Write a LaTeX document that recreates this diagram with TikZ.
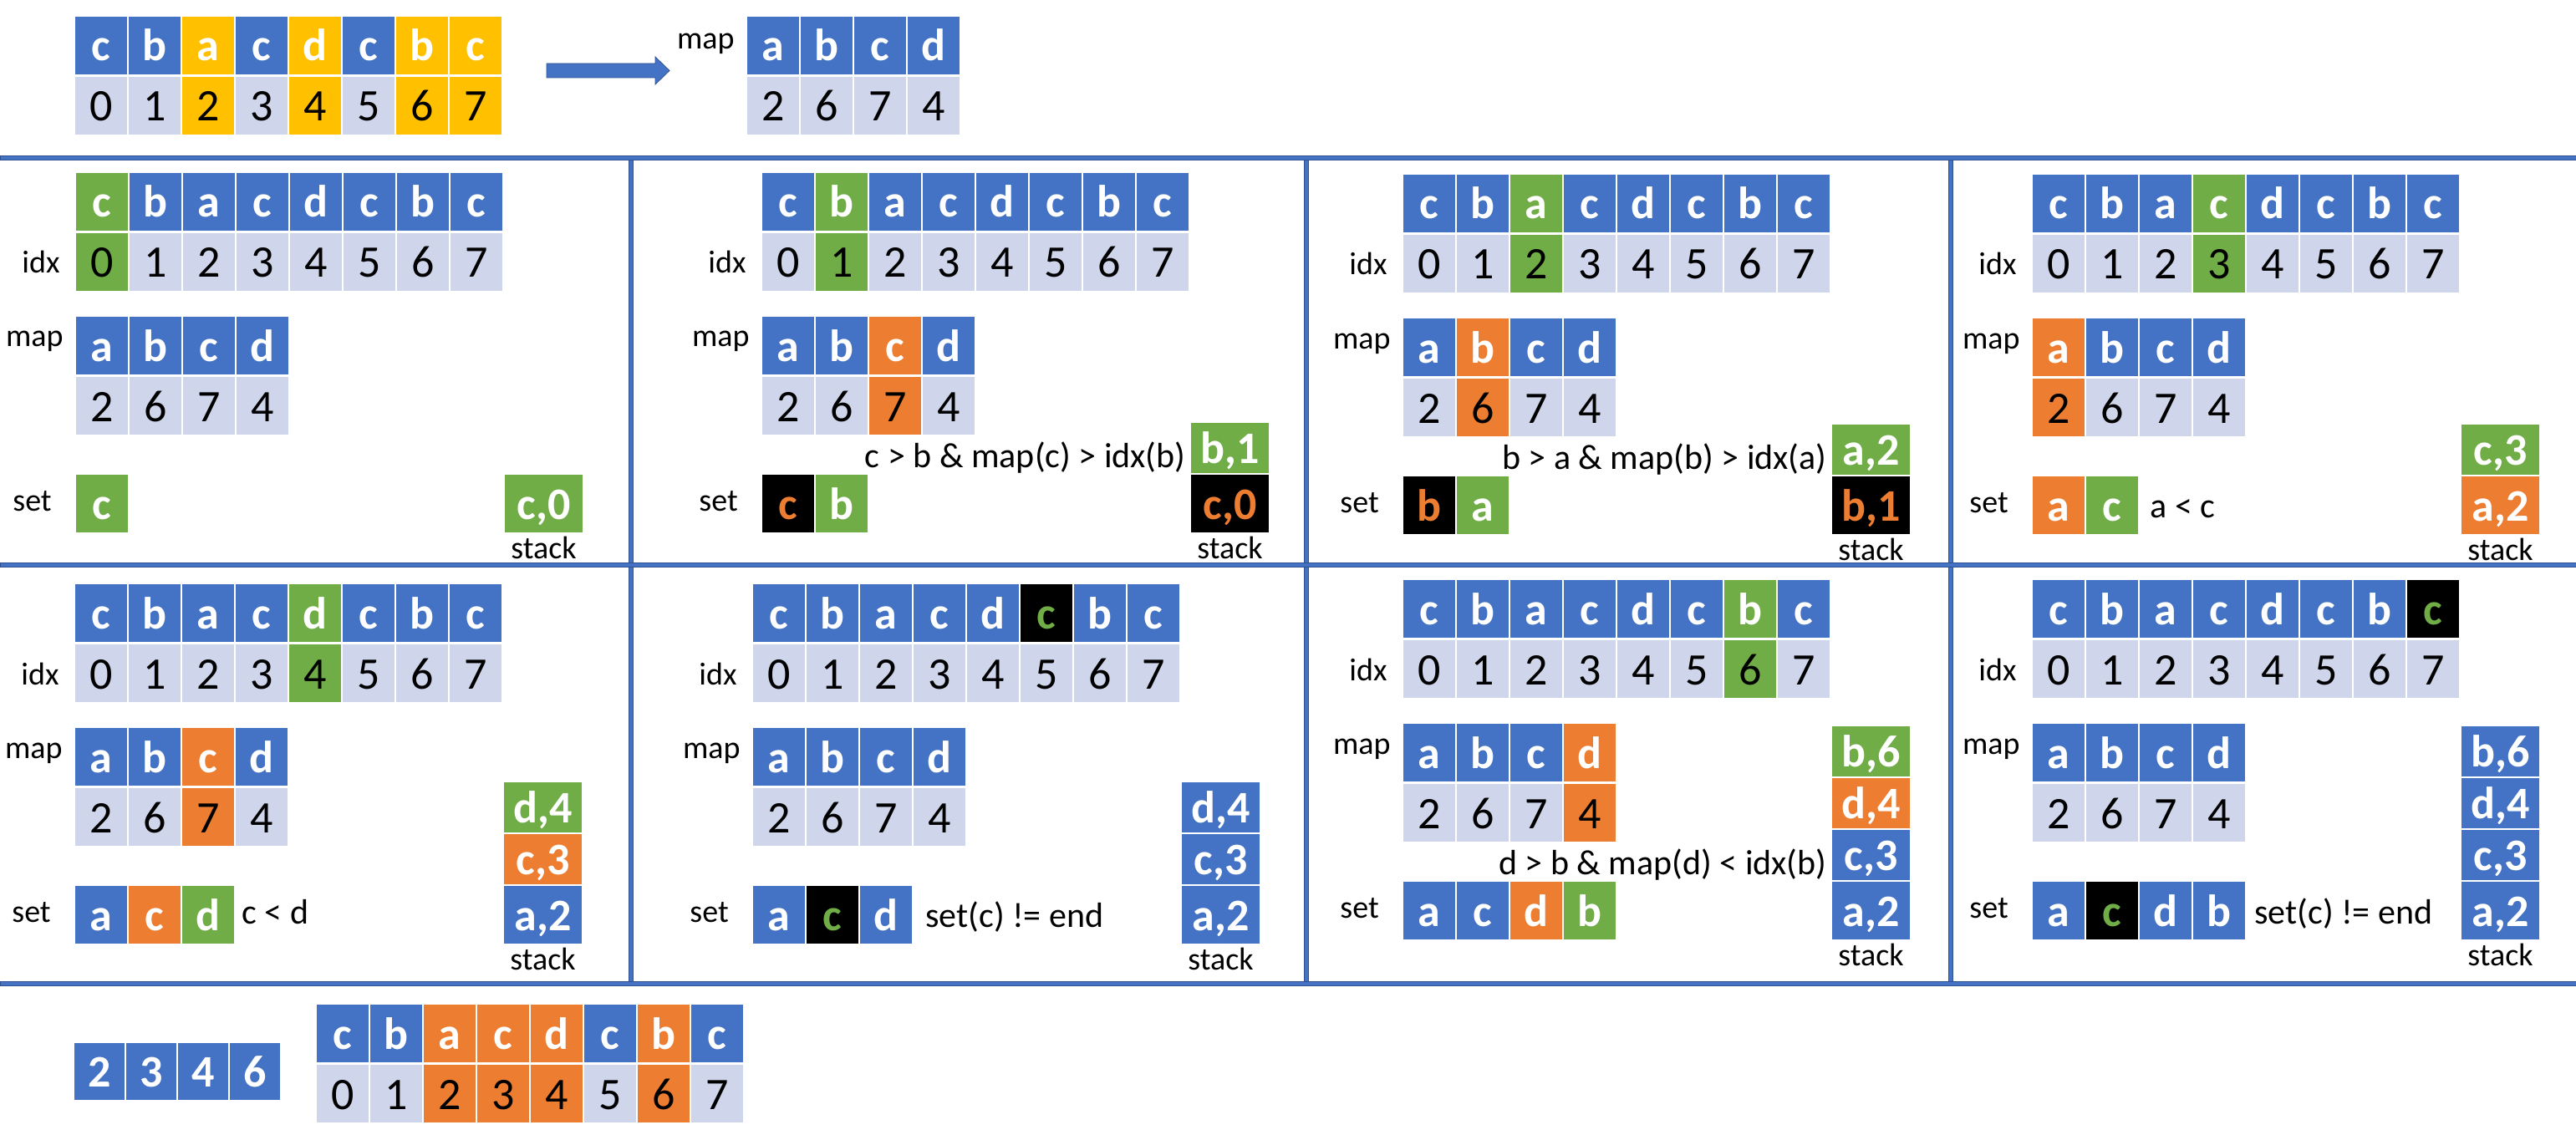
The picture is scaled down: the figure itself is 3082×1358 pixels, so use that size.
\documentclass[tikz,border=0pt]{standalone}
\usepackage{fontspec}
\setmainfont{Carlito}
\definecolor{cblue}{HTML}{4472C4}
\definecolor{clight}{HTML}{CFD5EA}
\definecolor{cgreen}{HTML}{70AD47}
\definecolor{corange}{HTML}{ED7D31}
\definecolor{cyellow}{HTML}{FFC000}
\definecolor{cdark}{HTML}{2F528F}
\tikzset{
 cellbase/.style={rectangle, inner sep=0pt, outer sep=0pt, minimum width=31pt, text height=18.5pt, text depth=0pt},
 lc/.style={cellbase, minimum height=34.5pt, font=\fontsize{27}{27}\selectfont\bfseries, text=white},
 dc/.style={cellbase, minimum height=34.5pt, font=\fontsize{27}{27}\selectfont, text=black, fill=clight},
 sc/.style={cellbase, minimum width=46.5pt, font=\fontsize{27}{27}\selectfont\bfseries},
 lbl/.style={inner sep=0pt, font=\fontsize{19}{19}\selectfont},
 cond/.style={inner sep=0pt, font=\fontsize{21}{21}\selectfont},
 border/.style={fill=cblue, draw=cdark, line width=0.4pt},
}
% explicit sequence: letter/topfill/textcolor/digitfill
\newcommand\seqrow[4]{%
  \foreach \l/\f/\t/\g [count=\i from 0] in {#4} {
    \node[lc, fill=\f, text=\t] (#1l\i) at ({#2+64*\i+31},{#3+34.5}) {\l};
    \node[dc, fill=\g] (#1d\i) at ({#2+64*\i+31},{#3+106.5}) {\i};
  }}
\def\hlg{\def\mycf{cgreen}\def\mycd{cgreen}}
\def\hlk{\def\mycf{black}\def\myct{cgreen}}
% panel sequence with one highlight
\newcommand\pseq[5]{%
  \foreach \l [count=\i from 0] in {c,b,a,c,d,c,b,c} {
    \def\mycf{cblue}\def\myct{white}\def\mycd{clight}%
    \ifnum\i=#4\relax\csname hl#5\endcsname\fi
    \node[lc, fill=\mycf, text=\myct] (#1l\i) at ({#2+64*\i+31},{#3+34.5}) {\l};
    \node[dc, fill=\mycd] (#1d\i) at ({#2+64*\i+31},{#3+106.5}) {\i};
  }}
% map array
\newcommand\pmap[4]{%
  \foreach \l/\v [count=\i from 0] in {a/2,b/6,c/7,d/4} {
    \def\mycf{cblue}\def\mycd{clight}%
    \ifnum\i=#4\relax\def\mycf{corange}\def\mycd{corange}\fi
    \node[lc, fill=\mycf] (#1m\i) at ({#2+64*\i+31},{#3+34.5}) {\l};
    \node[dc, fill=\mycd] (#1v\i) at ({#2+64*\i+31},{#3+106.5}) {\v};
  }}
% set row: letter/fill/textcolor
\newcommand\psetrow[4]{%
  \foreach \l/\f/\t [count=\i from 0] in {#4} {
    \node[lc, fill=\f, text=\t] (#1s\i) at ({#2+64*\i+31},{#3}) {\l};
  }}
% stack, bottom first: letter/num/fill/textcolor
\newcommand\pstack[4]{%
  \foreach \s/\n/\f/\t [count=\i] in {#4} {
    \ifnum\i=1
      \node[sc, minimum height=34.5pt, fill=\f, text=\t] (#1k\i) at (#2,{#3+34.5}) {\s,\n};
    \else
      \node[sc, minimum height=30pt, fill=\f, text=\t] (#1k\i) at (#2,{#3-32-62*(\i-2)}) {\s,\n};
    \fi
  }}
% panel labels
\newcommand\plabels[3]{%
  \node[lbl, anchor=base east] (#1idx) at ({#2-19},{#3+120}) {idx};
  \node[lbl, anchor=base east] (#1map) at ({#2-15},{#3+208}) {map};
  \node[lbl, anchor=base west] (#1set) at ({#2-76},{#3+404}) {set};
  \node[lbl, anchor=base] (#1stk) at ({#2+559.5},{#3+461}) {stack};
}
% whole panel: prefix, x0, y0, seq hi, mode, map hi, set list, stack list
\newcommand\panel[8]{%
  \plabels{#1}{#2}{#3}
  \pseq{#1}{#2}{#3}{#4}{#5}
  \pmap{#1}{#2}{#3+172}{#6}
  \psetrow{#1}{#2}{#3+395.5}{#7}
  \pstack{#1}{#2+559.5}{#3+361}{#8}
}
\begin{document}
\begin{tikzpicture}[x=0.5pt,y=-0.5pt]
\useasboundingbox (0,0) rectangle (3082,1358);
\fill[white] (0,0) rectangle (3082,1358);

% frame lines
\draw[border] (752,188) rectangle (757,1177);
\draw[border] (1560.5,188) rectangle (1565.5,1177);
\draw[border] (2331,188) rectangle (2336,1177);
\draw[border] (0,186) rectangle (3082,191);
\draw[border] (0,673) rectangle (3082,678);
\draw[border] (0,1174) rectangle (3082,1179);

% top
\seqrow{t}{90}{20}{c/cblue/white/clight, b/cblue/white/clight, a/cyellow/white/cyellow, c/cblue/white/clight, d/cyellow/white/cyellow, c/cblue/white/clight, b/cyellow/white/cyellow, c/cyellow/white/cyellow}
\pmap{t}{894}{20}{-1}
\node[lbl, anchor=base east] (tmaplbl) at (879,59) {map};
\draw[fill=cblue, draw=cdark, line width=0.4pt] (654,76) -- (784,76) -- (784,68) -- (801,84.5) -- (784,101) -- (784,93) -- (654,93) -- cycle;

% row 1
\panel{pa}{91}{207}{0}{g}{-1}{c/cgreen/white}{c/0/cgreen/white}
\panel{pb}{912}{207}{1}{g}{2}{c/black/corange, b/cgreen/white}{c/0/black/corange, b/1/cgreen/white}
\node[cond, anchor=base east] (pbcond) at (1419,559) {c > b \& map(c) > idx(b)};
\panel{pc}{1679}{209}{2}{g}{1}{b/black/corange, a/cgreen/white}{b/1/black/corange, a/2/cgreen/white}
\node[cond, anchor=base east] (pccond) at (2186,561) {b > a \& map(b) > idx(a)};
\panel{pd}{2432}{209}{3}{g}{0}{a/corange/white, c/cgreen/white}{a/2/corange/white, c/3/cgreen/white}
\node[cond, anchor=base west] (pdcond) at (2572,619) {a < c};

% row 2
\panel{pe}{90}{699}{4}{g}{2}{a/cblue/white, c/corange/white, d/cgreen/white}{a/2/cblue/white, c/3/corange/white, d/4/cgreen/white}
\node[cond, anchor=base west] (pecond) at (289,1105) {c < d};
\panel{pf}{901}{699}{5}{k}{-1}{a/cblue/white, c/black/cgreen, d/cblue/white}{a/2/cblue/white, c/3/cblue/white, d/4/cblue/white}
\node[cond, anchor=base west] (pfcond) at (1107,1109) {set(c) != end};
\panel{pg}{1679}{694}{6}{g}{3}{a/cblue/white, c/cblue/white, d/corange/white, b/cgreen/white}{a/2/cblue/white, c/3/cblue/white, d/4/corange/white, b/6/cgreen/white}
\node[cond, anchor=base east] (pgcond) at (2186,1046) {d > b \& map(d) < idx(b)};
\panel{ph}{2432}{694}{7}{k}{-1}{a/cblue/white, c/black/cgreen, d/cblue/white, b/cblue/white}{a/2/cblue/white, c/3/cblue/white, d/4/cblue/white, b/6/cblue/white}
\node[cond, anchor=base west] (phcond) at (2697,1105) {set(c) != end};

% bottom
\foreach \v [count=\i from 0] in {2,3,4,6} {
  \node[lc, fill=cblue, minimum width=30pt, minimum height=34pt] (r\i) at ({89+62*\i+30},1282) {\v};
}
\seqrow{f}{379}{1202}{c/cblue/white/clight, b/cblue/white/clight, a/corange/white/corange, c/corange/white/corange, d/corange/white/corange, c/cblue/white/clight, b/corange/white/corange, c/cblue/white/clight}
\end{tikzpicture}
\end{document}
